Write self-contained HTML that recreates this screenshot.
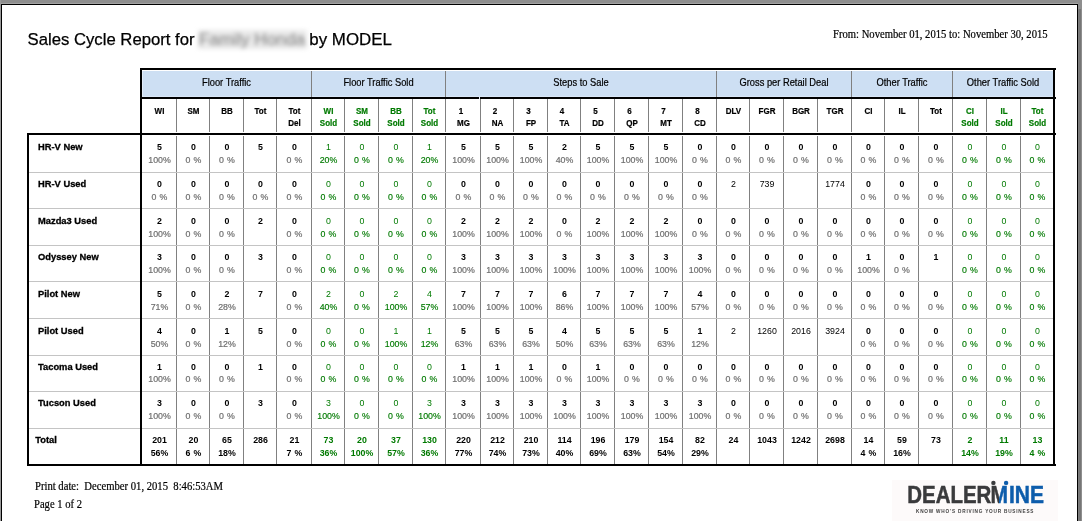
<!DOCTYPE html>
<html><head><meta charset="utf-8"><title>Sales Cycle Report</title>
<style>
html,body{margin:0;padding:0;background:#fff;}
body{width:1082px;height:521px;overflow:hidden;position:relative;}
svg{position:absolute;left:0;top:0;}
text{font-family:"Liberation Sans",Arial,sans-serif;fill:#000;}
.band{font-size:10.3px;stroke:#000;stroke-width:0.2px;}
.sh{font-size:9px;font-weight:bold;stroke:#000;stroke-width:0.2px;}
.sh.g{stroke:#007a00;}
.nm{font-size:9.5px;font-weight:bold;stroke:#000;stroke-width:0.3px;}
.ct{font-size:8.8px;word-spacing:0.6px;}
.b{font-weight:bold;}
.p{fill:#6f6f6f;stroke:#6f6f6f;stroke-width:0.2px;}
.gp{fill:#007a00;stroke:#007a00;stroke-width:0.15px;}
.g{fill:#007a00;}
.title{font-size:16.7px;stroke:#000;stroke-width:0.25px;}
.serif{font-family:"Liberation Serif","Times New Roman",serif;font-size:11.8px;stroke:#000;stroke-width:0.2px;}
.blur{filter:blur(2.2px);}
.logo{font-size:23.6px;font-weight:bold;stroke-width:0.5px;}
.tag{font-size:4.7px;font-weight:bold;fill:#3d3d3d;}
</style></head>
<body>
<svg width="1082" height="521" viewBox="0 0 1082 521" shape-rendering="crispEdges">
<rect x="0" y="0" width="1082" height="4" fill="#8e8e8e"/>
<rect x="0" y="3" width="1078" height="1" fill="#a3a3a3"/>
<rect x="0" y="0" width="1" height="521" fill="#9a9a9a"/>
<rect x="1" y="4" width="1077" height="1" fill="#000"/>
<rect x="1" y="4" width="1" height="517" fill="#000"/>
<rect x="1077" y="4" width="1" height="517" fill="#000"/>
<rect x="1078" y="0" width="4" height="521" fill="#8e8e8e"/>
<rect x="1078" y="9" width="1" height="512" fill="#7e7e7e"/>
<rect x="1079" y="9" width="2" height="512" fill="#767676"/>
<rect x="142" y="71" width="911" height="26" fill="#cddff3"/>
<rect x="142" y="71" width="1" height="26" fill="#e2ecf8"/>
<rect x="142" y="96" width="911" height="1" fill="#dae7f7"/>
<rect x="311" y="71" width="1" height="26" fill="#808080"/>
<rect x="445" y="71" width="1" height="26" fill="#808080"/>
<rect x="716" y="71" width="1" height="26" fill="#808080"/>
<rect x="851" y="71" width="1" height="26" fill="#808080"/>
<rect x="952" y="71" width="1" height="26" fill="#808080"/>
<rect x="176" y="99" width="1" height="33" fill="#808080"/>
<rect x="176" y="136" width="1" height="328" fill="#808080"/>
<rect x="209" y="99" width="1" height="33" fill="#808080"/>
<rect x="209" y="136" width="1" height="328" fill="#808080"/>
<rect x="243" y="99" width="1" height="33" fill="#808080"/>
<rect x="243" y="136" width="1" height="328" fill="#808080"/>
<rect x="276" y="99" width="1" height="33" fill="#808080"/>
<rect x="276" y="136" width="1" height="328" fill="#808080"/>
<rect x="311" y="99" width="1" height="33" fill="#808080"/>
<rect x="311" y="136" width="1" height="328" fill="#808080"/>
<rect x="344" y="99" width="1" height="33" fill="#808080"/>
<rect x="344" y="136" width="1" height="328" fill="#808080"/>
<rect x="378" y="99" width="1" height="33" fill="#808080"/>
<rect x="378" y="136" width="1" height="328" fill="#808080"/>
<rect x="412" y="99" width="1" height="33" fill="#808080"/>
<rect x="412" y="136" width="1" height="328" fill="#808080"/>
<rect x="445" y="99" width="1" height="33" fill="#808080"/>
<rect x="445" y="136" width="1" height="328" fill="#808080"/>
<rect x="480" y="99" width="1" height="33" fill="#808080"/>
<rect x="480" y="136" width="1" height="328" fill="#808080"/>
<rect x="513" y="99" width="1" height="33" fill="#808080"/>
<rect x="513" y="136" width="1" height="328" fill="#808080"/>
<rect x="547" y="99" width="1" height="33" fill="#808080"/>
<rect x="547" y="136" width="1" height="328" fill="#808080"/>
<rect x="580" y="99" width="1" height="33" fill="#808080"/>
<rect x="580" y="136" width="1" height="328" fill="#808080"/>
<rect x="614" y="99" width="1" height="33" fill="#808080"/>
<rect x="614" y="136" width="1" height="328" fill="#808080"/>
<rect x="648" y="99" width="1" height="33" fill="#808080"/>
<rect x="648" y="136" width="1" height="328" fill="#808080"/>
<rect x="682" y="99" width="1" height="33" fill="#808080"/>
<rect x="682" y="136" width="1" height="328" fill="#808080"/>
<rect x="716" y="99" width="1" height="33" fill="#808080"/>
<rect x="716" y="136" width="1" height="328" fill="#808080"/>
<rect x="749" y="99" width="1" height="33" fill="#808080"/>
<rect x="749" y="136" width="1" height="328" fill="#808080"/>
<rect x="783" y="99" width="1" height="33" fill="#808080"/>
<rect x="783" y="136" width="1" height="328" fill="#808080"/>
<rect x="817" y="99" width="1" height="33" fill="#808080"/>
<rect x="817" y="136" width="1" height="328" fill="#808080"/>
<rect x="851" y="99" width="1" height="33" fill="#808080"/>
<rect x="851" y="136" width="1" height="328" fill="#808080"/>
<rect x="884" y="99" width="1" height="33" fill="#808080"/>
<rect x="884" y="136" width="1" height="328" fill="#808080"/>
<rect x="918" y="99" width="1" height="33" fill="#808080"/>
<rect x="918" y="136" width="1" height="328" fill="#808080"/>
<rect x="952" y="99" width="1" height="33" fill="#808080"/>
<rect x="952" y="136" width="1" height="328" fill="#808080"/>
<rect x="986" y="99" width="1" height="33" fill="#808080"/>
<rect x="986" y="136" width="1" height="328" fill="#808080"/>
<rect x="1020" y="99" width="1" height="33" fill="#808080"/>
<rect x="1020" y="136" width="1" height="328" fill="#808080"/>
<rect x="29" y="172" width="1024" height="1" fill="#c4c4c4"/>
<rect x="29" y="208" width="1024" height="1" fill="#c4c4c4"/>
<rect x="29" y="245" width="1024" height="1" fill="#c4c4c4"/>
<rect x="29" y="281" width="1024" height="1" fill="#c4c4c4"/>
<rect x="29" y="318" width="1024" height="1" fill="#c4c4c4"/>
<rect x="29" y="355" width="1024" height="1" fill="#c4c4c4"/>
<rect x="29" y="391" width="1024" height="1" fill="#c4c4c4"/>
<rect x="29" y="428" width="1024" height="1" fill="#c4c4c4"/>
<rect x="140" y="68" width="916" height="2" fill="#000"/>
<rect x="140" y="97" width="916" height="2" fill="#000"/>
<rect x="27" y="133" width="1029" height="2" fill="#000"/>
<rect x="27" y="464" width="1029" height="2" fill="#000"/>
<rect x="140" y="68" width="2" height="398" fill="#000"/>
<rect x="1053" y="68" width="2" height="398" fill="#000"/>
<rect x="27" y="133" width="2" height="333" fill="#000"/>
<rect x="479" y="97" width="1" height="2" fill="#e6eef8"/>
<text transform="translate(226.5 86) scale(0.905 1)" class="band" text-anchor="middle">Floor Traffic</text>
<text transform="translate(378.5 86) scale(0.905 1)" class="band" text-anchor="middle">Floor Traffic Sold</text>
<text transform="translate(581.0 86) scale(0.905 1)" class="band" text-anchor="middle">Steps to Sale</text>
<text transform="translate(784.0 86) scale(0.905 1)" class="band" text-anchor="middle">Gross per Retail Deal</text>
<text transform="translate(902.0 86) scale(0.905 1)" class="band" text-anchor="middle">Other Traffic</text>
<text transform="translate(1003.0 86) scale(0.905 1)" class="band" text-anchor="middle">Other Traffic Sold</text>
<text transform="translate(159.5 114) scale(0.89 1)" class="sh" text-anchor="middle">WI</text>
<text transform="translate(193.5 114) scale(0.89 1)" class="sh" text-anchor="middle">SM</text>
<text transform="translate(227.0 114) scale(0.89 1)" class="sh" text-anchor="middle">BB</text>
<text transform="translate(260.5 114) scale(0.89 1)" class="sh" text-anchor="middle">Tot</text>
<text transform="translate(294.5 114) scale(0.89 1)" class="sh" text-anchor="middle">Tot</text>
<text transform="translate(294.5 125.7) scale(0.89 1)" class="sh" text-anchor="middle">Del</text>
<text transform="translate(328.5 114) scale(0.89 1)" class="sh g" text-anchor="middle">WI</text>
<text transform="translate(328.5 125.7) scale(0.89 1)" class="sh g" text-anchor="middle">Sold</text>
<text transform="translate(362.0 114) scale(0.89 1)" class="sh g" text-anchor="middle">SM</text>
<text transform="translate(362.0 125.7) scale(0.89 1)" class="sh g" text-anchor="middle">Sold</text>
<text transform="translate(396.0 114) scale(0.89 1)" class="sh g" text-anchor="middle">BB</text>
<text transform="translate(396.0 125.7) scale(0.89 1)" class="sh g" text-anchor="middle">Sold</text>
<text transform="translate(429.5 114) scale(0.89 1)" class="sh g" text-anchor="middle">Tot</text>
<text transform="translate(429.5 125.7) scale(0.89 1)" class="sh g" text-anchor="middle">Sold</text>
<text transform="translate(461.0 114) scale(0.89 1)" class="sh" text-anchor="middle">1</text>
<text transform="translate(463.5 125.7) scale(0.89 1)" class="sh" text-anchor="middle">MG</text>
<text transform="translate(495.0 114) scale(0.89 1)" class="sh" text-anchor="middle">2</text>
<text transform="translate(497.5 125.7) scale(0.89 1)" class="sh" text-anchor="middle">NA</text>
<text transform="translate(528.5 114) scale(0.89 1)" class="sh" text-anchor="middle">3</text>
<text transform="translate(531.0 125.7) scale(0.89 1)" class="sh" text-anchor="middle">FP</text>
<text transform="translate(562.0 114) scale(0.89 1)" class="sh" text-anchor="middle">4</text>
<text transform="translate(564.5 125.7) scale(0.89 1)" class="sh" text-anchor="middle">TA</text>
<text transform="translate(595.5 114) scale(0.89 1)" class="sh" text-anchor="middle">5</text>
<text transform="translate(598.0 125.7) scale(0.89 1)" class="sh" text-anchor="middle">DD</text>
<text transform="translate(629.5 114) scale(0.89 1)" class="sh" text-anchor="middle">6</text>
<text transform="translate(632.0 125.7) scale(0.89 1)" class="sh" text-anchor="middle">QP</text>
<text transform="translate(663.5 114) scale(0.89 1)" class="sh" text-anchor="middle">7</text>
<text transform="translate(666.0 125.7) scale(0.89 1)" class="sh" text-anchor="middle">MT</text>
<text transform="translate(697.5 114) scale(0.89 1)" class="sh" text-anchor="middle">8</text>
<text transform="translate(700.0 125.7) scale(0.89 1)" class="sh" text-anchor="middle">CD</text>
<text transform="translate(733.5 114) scale(0.89 1)" class="sh" text-anchor="middle">DLV</text>
<text transform="translate(767.0 114) scale(0.89 1)" class="sh" text-anchor="middle">FGR</text>
<text transform="translate(801.0 114) scale(0.89 1)" class="sh" text-anchor="middle">BGR</text>
<text transform="translate(835.0 114) scale(0.89 1)" class="sh" text-anchor="middle">TGR</text>
<text transform="translate(868.5 114) scale(0.89 1)" class="sh" text-anchor="middle">CI</text>
<text transform="translate(902.0 114) scale(0.89 1)" class="sh" text-anchor="middle">IL</text>
<text transform="translate(936.0 114) scale(0.89 1)" class="sh" text-anchor="middle">Tot</text>
<text transform="translate(970.0 114) scale(0.89 1)" class="sh g" text-anchor="middle">CI</text>
<text transform="translate(970.0 125.7) scale(0.89 1)" class="sh g" text-anchor="middle">Sold</text>
<text transform="translate(1004.0 114) scale(0.89 1)" class="sh g" text-anchor="middle">IL</text>
<text transform="translate(1004.0 125.7) scale(0.89 1)" class="sh g" text-anchor="middle">Sold</text>
<text transform="translate(1037.5 114) scale(0.89 1)" class="sh g" text-anchor="middle">Tot</text>
<text transform="translate(1037.5 125.7) scale(0.89 1)" class="sh g" text-anchor="middle">Sold</text>
<text transform="translate(38 150) scale(0.985 1)" class="nm">HR-V New</text>
<text x="159.5" y="150" class="ct b" text-anchor="middle">5</text>
<text x="159.5" y="162.8" class="ct p" text-anchor="middle">100%</text>
<text x="193.5" y="150" class="ct b" text-anchor="middle">0</text>
<text x="193.5" y="162.8" class="ct p" text-anchor="middle">0 %</text>
<text x="227.0" y="150" class="ct b" text-anchor="middle">0</text>
<text x="227.0" y="162.8" class="ct p" text-anchor="middle">0 %</text>
<text x="260.5" y="150" class="ct b" text-anchor="middle">5</text>
<text x="294.5" y="150" class="ct b" text-anchor="middle">0</text>
<text x="294.5" y="162.8" class="ct p" text-anchor="middle">0 %</text>
<text x="328.5" y="150" class="ct g" text-anchor="middle">1</text>
<text x="328.5" y="162.8" class="ct gp" text-anchor="middle">20%</text>
<text x="362.0" y="150" class="ct g" text-anchor="middle">0</text>
<text x="362.0" y="162.8" class="ct gp" text-anchor="middle">0 %</text>
<text x="396.0" y="150" class="ct g" text-anchor="middle">0</text>
<text x="396.0" y="162.8" class="ct gp" text-anchor="middle">0 %</text>
<text x="429.5" y="150" class="ct g" text-anchor="middle">1</text>
<text x="429.5" y="162.8" class="ct gp" text-anchor="middle">20%</text>
<text x="463.5" y="150" class="ct b" text-anchor="middle">5</text>
<text x="463.5" y="162.8" class="ct p" text-anchor="middle">100%</text>
<text x="497.5" y="150" class="ct b" text-anchor="middle">5</text>
<text x="497.5" y="162.8" class="ct p" text-anchor="middle">100%</text>
<text x="531.0" y="150" class="ct b" text-anchor="middle">5</text>
<text x="531.0" y="162.8" class="ct p" text-anchor="middle">100%</text>
<text x="564.5" y="150" class="ct b" text-anchor="middle">2</text>
<text x="564.5" y="162.8" class="ct p" text-anchor="middle">40%</text>
<text x="598.0" y="150" class="ct b" text-anchor="middle">5</text>
<text x="598.0" y="162.8" class="ct p" text-anchor="middle">100%</text>
<text x="632.0" y="150" class="ct b" text-anchor="middle">5</text>
<text x="632.0" y="162.8" class="ct p" text-anchor="middle">100%</text>
<text x="666.0" y="150" class="ct b" text-anchor="middle">5</text>
<text x="666.0" y="162.8" class="ct p" text-anchor="middle">100%</text>
<text x="700.0" y="150" class="ct b" text-anchor="middle">0</text>
<text x="700.0" y="162.8" class="ct p" text-anchor="middle">0 %</text>
<text x="733.5" y="150" class="ct b" text-anchor="middle">0</text>
<text x="733.5" y="162.8" class="ct p" text-anchor="middle">0 %</text>
<text x="767.0" y="150" class="ct b" text-anchor="middle">0</text>
<text x="767.0" y="162.8" class="ct p" text-anchor="middle">0 %</text>
<text x="801.0" y="150" class="ct b" text-anchor="middle">0</text>
<text x="801.0" y="162.8" class="ct p" text-anchor="middle">0 %</text>
<text x="835.0" y="150" class="ct b" text-anchor="middle">0</text>
<text x="835.0" y="162.8" class="ct p" text-anchor="middle">0 %</text>
<text x="868.5" y="150" class="ct b" text-anchor="middle">0</text>
<text x="868.5" y="162.8" class="ct p" text-anchor="middle">0 %</text>
<text x="902.0" y="150" class="ct b" text-anchor="middle">0</text>
<text x="902.0" y="162.8" class="ct p" text-anchor="middle">0 %</text>
<text x="936.0" y="150" class="ct b" text-anchor="middle">0</text>
<text x="936.0" y="162.8" class="ct p" text-anchor="middle">0 %</text>
<text x="970.0" y="150" class="ct g" text-anchor="middle">0</text>
<text x="970.0" y="162.8" class="ct gp" text-anchor="middle">0 %</text>
<text x="1004.0" y="150" class="ct g" text-anchor="middle">0</text>
<text x="1004.0" y="162.8" class="ct gp" text-anchor="middle">0 %</text>
<text x="1037.5" y="150" class="ct g" text-anchor="middle">0</text>
<text x="1037.5" y="162.8" class="ct gp" text-anchor="middle">0 %</text>
<text transform="translate(38 187) scale(0.985 1)" class="nm">HR-V Used</text>
<text x="159.5" y="187" class="ct b" text-anchor="middle">0</text>
<text x="159.5" y="199.7" class="ct p" text-anchor="middle">0 %</text>
<text x="193.5" y="187" class="ct b" text-anchor="middle">0</text>
<text x="193.5" y="199.7" class="ct p" text-anchor="middle">0 %</text>
<text x="227.0" y="187" class="ct b" text-anchor="middle">0</text>
<text x="227.0" y="199.7" class="ct p" text-anchor="middle">0 %</text>
<text x="260.5" y="187" class="ct b" text-anchor="middle">0</text>
<text x="260.5" y="199.7" class="ct p" text-anchor="middle">0 %</text>
<text x="294.5" y="187" class="ct b" text-anchor="middle">0</text>
<text x="294.5" y="199.7" class="ct p" text-anchor="middle">0 %</text>
<text x="328.5" y="187" class="ct g" text-anchor="middle">0</text>
<text x="328.5" y="199.7" class="ct gp" text-anchor="middle">0 %</text>
<text x="362.0" y="187" class="ct g" text-anchor="middle">0</text>
<text x="362.0" y="199.7" class="ct gp" text-anchor="middle">0 %</text>
<text x="396.0" y="187" class="ct g" text-anchor="middle">0</text>
<text x="396.0" y="199.7" class="ct gp" text-anchor="middle">0 %</text>
<text x="429.5" y="187" class="ct g" text-anchor="middle">0</text>
<text x="429.5" y="199.7" class="ct gp" text-anchor="middle">0 %</text>
<text x="463.5" y="187" class="ct b" text-anchor="middle">0</text>
<text x="463.5" y="199.7" class="ct p" text-anchor="middle">0 %</text>
<text x="497.5" y="187" class="ct b" text-anchor="middle">0</text>
<text x="497.5" y="199.7" class="ct p" text-anchor="middle">0 %</text>
<text x="531.0" y="187" class="ct b" text-anchor="middle">0</text>
<text x="531.0" y="199.7" class="ct p" text-anchor="middle">0 %</text>
<text x="564.5" y="187" class="ct b" text-anchor="middle">0</text>
<text x="564.5" y="199.7" class="ct p" text-anchor="middle">0 %</text>
<text x="598.0" y="187" class="ct b" text-anchor="middle">0</text>
<text x="598.0" y="199.7" class="ct p" text-anchor="middle">0 %</text>
<text x="632.0" y="187" class="ct b" text-anchor="middle">0</text>
<text x="632.0" y="199.7" class="ct p" text-anchor="middle">0 %</text>
<text x="666.0" y="187" class="ct b" text-anchor="middle">0</text>
<text x="666.0" y="199.7" class="ct p" text-anchor="middle">0 %</text>
<text x="700.0" y="187" class="ct b" text-anchor="middle">0</text>
<text x="700.0" y="199.7" class="ct p" text-anchor="middle">0 %</text>
<text x="733.5" y="187" class="ct" text-anchor="middle">2</text>
<text x="767.0" y="187" class="ct" text-anchor="middle">739</text>
<text x="835.0" y="187" class="ct" text-anchor="middle">1774</text>
<text x="868.5" y="187" class="ct b" text-anchor="middle">0</text>
<text x="868.5" y="199.7" class="ct p" text-anchor="middle">0 %</text>
<text x="902.0" y="187" class="ct b" text-anchor="middle">0</text>
<text x="902.0" y="199.7" class="ct p" text-anchor="middle">0 %</text>
<text x="936.0" y="187" class="ct b" text-anchor="middle">0</text>
<text x="936.0" y="199.7" class="ct p" text-anchor="middle">0 %</text>
<text x="970.0" y="187" class="ct g" text-anchor="middle">0</text>
<text x="970.0" y="199.7" class="ct gp" text-anchor="middle">0 %</text>
<text x="1004.0" y="187" class="ct g" text-anchor="middle">0</text>
<text x="1004.0" y="199.7" class="ct gp" text-anchor="middle">0 %</text>
<text x="1037.5" y="187" class="ct g" text-anchor="middle">0</text>
<text x="1037.5" y="199.7" class="ct gp" text-anchor="middle">0 %</text>
<text transform="translate(38 224.1) scale(0.985 1)" class="nm">Mazda3 Used</text>
<text x="159.5" y="224.1" class="ct b" text-anchor="middle">2</text>
<text x="159.5" y="236.7" class="ct p" text-anchor="middle">100%</text>
<text x="193.5" y="224.1" class="ct b" text-anchor="middle">0</text>
<text x="193.5" y="236.7" class="ct p" text-anchor="middle">0 %</text>
<text x="227.0" y="224.1" class="ct b" text-anchor="middle">0</text>
<text x="227.0" y="236.7" class="ct p" text-anchor="middle">0 %</text>
<text x="260.5" y="224.1" class="ct b" text-anchor="middle">2</text>
<text x="294.5" y="224.1" class="ct b" text-anchor="middle">0</text>
<text x="294.5" y="236.7" class="ct p" text-anchor="middle">0 %</text>
<text x="328.5" y="224.1" class="ct g" text-anchor="middle">0</text>
<text x="328.5" y="236.7" class="ct gp" text-anchor="middle">0 %</text>
<text x="362.0" y="224.1" class="ct g" text-anchor="middle">0</text>
<text x="362.0" y="236.7" class="ct gp" text-anchor="middle">0 %</text>
<text x="396.0" y="224.1" class="ct g" text-anchor="middle">0</text>
<text x="396.0" y="236.7" class="ct gp" text-anchor="middle">0 %</text>
<text x="429.5" y="224.1" class="ct g" text-anchor="middle">0</text>
<text x="429.5" y="236.7" class="ct gp" text-anchor="middle">0 %</text>
<text x="463.5" y="224.1" class="ct b" text-anchor="middle">2</text>
<text x="463.5" y="236.7" class="ct p" text-anchor="middle">100%</text>
<text x="497.5" y="224.1" class="ct b" text-anchor="middle">2</text>
<text x="497.5" y="236.7" class="ct p" text-anchor="middle">100%</text>
<text x="531.0" y="224.1" class="ct b" text-anchor="middle">2</text>
<text x="531.0" y="236.7" class="ct p" text-anchor="middle">100%</text>
<text x="564.5" y="224.1" class="ct b" text-anchor="middle">0</text>
<text x="564.5" y="236.7" class="ct p" text-anchor="middle">0 %</text>
<text x="598.0" y="224.1" class="ct b" text-anchor="middle">2</text>
<text x="598.0" y="236.7" class="ct p" text-anchor="middle">100%</text>
<text x="632.0" y="224.1" class="ct b" text-anchor="middle">2</text>
<text x="632.0" y="236.7" class="ct p" text-anchor="middle">100%</text>
<text x="666.0" y="224.1" class="ct b" text-anchor="middle">2</text>
<text x="666.0" y="236.7" class="ct p" text-anchor="middle">100%</text>
<text x="700.0" y="224.1" class="ct b" text-anchor="middle">0</text>
<text x="700.0" y="236.7" class="ct p" text-anchor="middle">0 %</text>
<text x="733.5" y="224.1" class="ct b" text-anchor="middle">0</text>
<text x="733.5" y="236.7" class="ct p" text-anchor="middle">0 %</text>
<text x="767.0" y="224.1" class="ct b" text-anchor="middle">0</text>
<text x="767.0" y="236.7" class="ct p" text-anchor="middle">0 %</text>
<text x="801.0" y="224.1" class="ct b" text-anchor="middle">0</text>
<text x="801.0" y="236.7" class="ct p" text-anchor="middle">0 %</text>
<text x="835.0" y="224.1" class="ct b" text-anchor="middle">0</text>
<text x="835.0" y="236.7" class="ct p" text-anchor="middle">0 %</text>
<text x="868.5" y="224.1" class="ct b" text-anchor="middle">0</text>
<text x="868.5" y="236.7" class="ct p" text-anchor="middle">0 %</text>
<text x="902.0" y="224.1" class="ct b" text-anchor="middle">0</text>
<text x="902.0" y="236.7" class="ct p" text-anchor="middle">0 %</text>
<text x="936.0" y="224.1" class="ct b" text-anchor="middle">0</text>
<text x="936.0" y="236.7" class="ct p" text-anchor="middle">0 %</text>
<text x="970.0" y="224.1" class="ct g" text-anchor="middle">0</text>
<text x="970.0" y="236.7" class="ct gp" text-anchor="middle">0 %</text>
<text x="1004.0" y="224.1" class="ct g" text-anchor="middle">0</text>
<text x="1004.0" y="236.7" class="ct gp" text-anchor="middle">0 %</text>
<text x="1037.5" y="224.1" class="ct g" text-anchor="middle">0</text>
<text x="1037.5" y="236.7" class="ct gp" text-anchor="middle">0 %</text>
<text transform="translate(38 260) scale(0.985 1)" class="nm">Odyssey New</text>
<text x="159.5" y="260" class="ct b" text-anchor="middle">3</text>
<text x="159.5" y="272.7" class="ct p" text-anchor="middle">100%</text>
<text x="193.5" y="260" class="ct b" text-anchor="middle">0</text>
<text x="193.5" y="272.7" class="ct p" text-anchor="middle">0 %</text>
<text x="227.0" y="260" class="ct b" text-anchor="middle">0</text>
<text x="227.0" y="272.7" class="ct p" text-anchor="middle">0 %</text>
<text x="260.5" y="260" class="ct b" text-anchor="middle">3</text>
<text x="294.5" y="260" class="ct b" text-anchor="middle">0</text>
<text x="294.5" y="272.7" class="ct p" text-anchor="middle">0 %</text>
<text x="328.5" y="260" class="ct g" text-anchor="middle">0</text>
<text x="328.5" y="272.7" class="ct gp" text-anchor="middle">0 %</text>
<text x="362.0" y="260" class="ct g" text-anchor="middle">0</text>
<text x="362.0" y="272.7" class="ct gp" text-anchor="middle">0 %</text>
<text x="396.0" y="260" class="ct g" text-anchor="middle">0</text>
<text x="396.0" y="272.7" class="ct gp" text-anchor="middle">0 %</text>
<text x="429.5" y="260" class="ct g" text-anchor="middle">0</text>
<text x="429.5" y="272.7" class="ct gp" text-anchor="middle">0 %</text>
<text x="463.5" y="260" class="ct b" text-anchor="middle">3</text>
<text x="463.5" y="272.7" class="ct p" text-anchor="middle">100%</text>
<text x="497.5" y="260" class="ct b" text-anchor="middle">3</text>
<text x="497.5" y="272.7" class="ct p" text-anchor="middle">100%</text>
<text x="531.0" y="260" class="ct b" text-anchor="middle">3</text>
<text x="531.0" y="272.7" class="ct p" text-anchor="middle">100%</text>
<text x="564.5" y="260" class="ct b" text-anchor="middle">3</text>
<text x="564.5" y="272.7" class="ct p" text-anchor="middle">100%</text>
<text x="598.0" y="260" class="ct b" text-anchor="middle">3</text>
<text x="598.0" y="272.7" class="ct p" text-anchor="middle">100%</text>
<text x="632.0" y="260" class="ct b" text-anchor="middle">3</text>
<text x="632.0" y="272.7" class="ct p" text-anchor="middle">100%</text>
<text x="666.0" y="260" class="ct b" text-anchor="middle">3</text>
<text x="666.0" y="272.7" class="ct p" text-anchor="middle">100%</text>
<text x="700.0" y="260" class="ct b" text-anchor="middle">3</text>
<text x="700.0" y="272.7" class="ct p" text-anchor="middle">100%</text>
<text x="733.5" y="260" class="ct b" text-anchor="middle">0</text>
<text x="733.5" y="272.7" class="ct p" text-anchor="middle">0 %</text>
<text x="767.0" y="260" class="ct b" text-anchor="middle">0</text>
<text x="767.0" y="272.7" class="ct p" text-anchor="middle">0 %</text>
<text x="801.0" y="260" class="ct b" text-anchor="middle">0</text>
<text x="801.0" y="272.7" class="ct p" text-anchor="middle">0 %</text>
<text x="835.0" y="260" class="ct b" text-anchor="middle">0</text>
<text x="835.0" y="272.7" class="ct p" text-anchor="middle">0 %</text>
<text x="868.5" y="260" class="ct b" text-anchor="middle">1</text>
<text x="868.5" y="272.7" class="ct p" text-anchor="middle">100%</text>
<text x="902.0" y="260" class="ct b" text-anchor="middle">0</text>
<text x="902.0" y="272.7" class="ct p" text-anchor="middle">0 %</text>
<text x="936.0" y="260" class="ct b" text-anchor="middle">1</text>
<text x="970.0" y="260" class="ct g" text-anchor="middle">0</text>
<text x="970.0" y="272.7" class="ct gp" text-anchor="middle">0 %</text>
<text x="1004.0" y="260" class="ct g" text-anchor="middle">0</text>
<text x="1004.0" y="272.7" class="ct gp" text-anchor="middle">0 %</text>
<text x="1037.5" y="260" class="ct g" text-anchor="middle">0</text>
<text x="1037.5" y="272.7" class="ct gp" text-anchor="middle">0 %</text>
<text transform="translate(38 297.1) scale(0.985 1)" class="nm">Pilot New</text>
<text x="159.5" y="297.1" class="ct b" text-anchor="middle">5</text>
<text x="159.5" y="309.6" class="ct p" text-anchor="middle">71%</text>
<text x="193.5" y="297.1" class="ct b" text-anchor="middle">0</text>
<text x="193.5" y="309.6" class="ct p" text-anchor="middle">0 %</text>
<text x="227.0" y="297.1" class="ct b" text-anchor="middle">2</text>
<text x="227.0" y="309.6" class="ct p" text-anchor="middle">28%</text>
<text x="260.5" y="297.1" class="ct b" text-anchor="middle">7</text>
<text x="294.5" y="297.1" class="ct b" text-anchor="middle">0</text>
<text x="294.5" y="309.6" class="ct p" text-anchor="middle">0 %</text>
<text x="328.5" y="297.1" class="ct g" text-anchor="middle">2</text>
<text x="328.5" y="309.6" class="ct gp" text-anchor="middle">40%</text>
<text x="362.0" y="297.1" class="ct g" text-anchor="middle">0</text>
<text x="362.0" y="309.6" class="ct gp" text-anchor="middle">0 %</text>
<text x="396.0" y="297.1" class="ct g" text-anchor="middle">2</text>
<text x="396.0" y="309.6" class="ct gp" text-anchor="middle">100%</text>
<text x="429.5" y="297.1" class="ct g" text-anchor="middle">4</text>
<text x="429.5" y="309.6" class="ct gp" text-anchor="middle">57%</text>
<text x="463.5" y="297.1" class="ct b" text-anchor="middle">7</text>
<text x="463.5" y="309.6" class="ct p" text-anchor="middle">100%</text>
<text x="497.5" y="297.1" class="ct b" text-anchor="middle">7</text>
<text x="497.5" y="309.6" class="ct p" text-anchor="middle">100%</text>
<text x="531.0" y="297.1" class="ct b" text-anchor="middle">7</text>
<text x="531.0" y="309.6" class="ct p" text-anchor="middle">100%</text>
<text x="564.5" y="297.1" class="ct b" text-anchor="middle">6</text>
<text x="564.5" y="309.6" class="ct p" text-anchor="middle">86%</text>
<text x="598.0" y="297.1" class="ct b" text-anchor="middle">7</text>
<text x="598.0" y="309.6" class="ct p" text-anchor="middle">100%</text>
<text x="632.0" y="297.1" class="ct b" text-anchor="middle">7</text>
<text x="632.0" y="309.6" class="ct p" text-anchor="middle">100%</text>
<text x="666.0" y="297.1" class="ct b" text-anchor="middle">7</text>
<text x="666.0" y="309.6" class="ct p" text-anchor="middle">100%</text>
<text x="700.0" y="297.1" class="ct b" text-anchor="middle">4</text>
<text x="700.0" y="309.6" class="ct p" text-anchor="middle">57%</text>
<text x="733.5" y="297.1" class="ct b" text-anchor="middle">0</text>
<text x="733.5" y="309.6" class="ct p" text-anchor="middle">0 %</text>
<text x="767.0" y="297.1" class="ct b" text-anchor="middle">0</text>
<text x="767.0" y="309.6" class="ct p" text-anchor="middle">0 %</text>
<text x="801.0" y="297.1" class="ct b" text-anchor="middle">0</text>
<text x="801.0" y="309.6" class="ct p" text-anchor="middle">0 %</text>
<text x="835.0" y="297.1" class="ct b" text-anchor="middle">0</text>
<text x="835.0" y="309.6" class="ct p" text-anchor="middle">0 %</text>
<text x="868.5" y="297.1" class="ct b" text-anchor="middle">0</text>
<text x="868.5" y="309.6" class="ct p" text-anchor="middle">0 %</text>
<text x="902.0" y="297.1" class="ct b" text-anchor="middle">0</text>
<text x="902.0" y="309.6" class="ct p" text-anchor="middle">0 %</text>
<text x="936.0" y="297.1" class="ct b" text-anchor="middle">0</text>
<text x="936.0" y="309.6" class="ct p" text-anchor="middle">0 %</text>
<text x="970.0" y="297.1" class="ct g" text-anchor="middle">0</text>
<text x="970.0" y="309.6" class="ct gp" text-anchor="middle">0 %</text>
<text x="1004.0" y="297.1" class="ct g" text-anchor="middle">0</text>
<text x="1004.0" y="309.6" class="ct gp" text-anchor="middle">0 %</text>
<text x="1037.5" y="297.1" class="ct g" text-anchor="middle">0</text>
<text x="1037.5" y="309.6" class="ct gp" text-anchor="middle">0 %</text>
<text transform="translate(38 334.1) scale(0.985 1)" class="nm">Pilot Used</text>
<text x="159.5" y="334.1" class="ct b" text-anchor="middle">4</text>
<text x="159.5" y="346.6" class="ct p" text-anchor="middle">50%</text>
<text x="193.5" y="334.1" class="ct b" text-anchor="middle">0</text>
<text x="193.5" y="346.6" class="ct p" text-anchor="middle">0 %</text>
<text x="227.0" y="334.1" class="ct b" text-anchor="middle">1</text>
<text x="227.0" y="346.6" class="ct p" text-anchor="middle">12%</text>
<text x="260.5" y="334.1" class="ct b" text-anchor="middle">5</text>
<text x="294.5" y="334.1" class="ct b" text-anchor="middle">0</text>
<text x="294.5" y="346.6" class="ct p" text-anchor="middle">0 %</text>
<text x="328.5" y="334.1" class="ct g" text-anchor="middle">0</text>
<text x="328.5" y="346.6" class="ct gp" text-anchor="middle">0 %</text>
<text x="362.0" y="334.1" class="ct g" text-anchor="middle">0</text>
<text x="362.0" y="346.6" class="ct gp" text-anchor="middle">0 %</text>
<text x="396.0" y="334.1" class="ct g" text-anchor="middle">1</text>
<text x="396.0" y="346.6" class="ct gp" text-anchor="middle">100%</text>
<text x="429.5" y="334.1" class="ct g" text-anchor="middle">1</text>
<text x="429.5" y="346.6" class="ct gp" text-anchor="middle">12%</text>
<text x="463.5" y="334.1" class="ct b" text-anchor="middle">5</text>
<text x="463.5" y="346.6" class="ct p" text-anchor="middle">63%</text>
<text x="497.5" y="334.1" class="ct b" text-anchor="middle">5</text>
<text x="497.5" y="346.6" class="ct p" text-anchor="middle">63%</text>
<text x="531.0" y="334.1" class="ct b" text-anchor="middle">5</text>
<text x="531.0" y="346.6" class="ct p" text-anchor="middle">63%</text>
<text x="564.5" y="334.1" class="ct b" text-anchor="middle">4</text>
<text x="564.5" y="346.6" class="ct p" text-anchor="middle">50%</text>
<text x="598.0" y="334.1" class="ct b" text-anchor="middle">5</text>
<text x="598.0" y="346.6" class="ct p" text-anchor="middle">63%</text>
<text x="632.0" y="334.1" class="ct b" text-anchor="middle">5</text>
<text x="632.0" y="346.6" class="ct p" text-anchor="middle">63%</text>
<text x="666.0" y="334.1" class="ct b" text-anchor="middle">5</text>
<text x="666.0" y="346.6" class="ct p" text-anchor="middle">63%</text>
<text x="700.0" y="334.1" class="ct b" text-anchor="middle">1</text>
<text x="700.0" y="346.6" class="ct p" text-anchor="middle">12%</text>
<text x="733.5" y="334.1" class="ct" text-anchor="middle">2</text>
<text x="767.0" y="334.1" class="ct" text-anchor="middle">1260</text>
<text x="801.0" y="334.1" class="ct" text-anchor="middle">2016</text>
<text x="835.0" y="334.1" class="ct" text-anchor="middle">3924</text>
<text x="868.5" y="334.1" class="ct b" text-anchor="middle">0</text>
<text x="868.5" y="346.6" class="ct p" text-anchor="middle">0 %</text>
<text x="902.0" y="334.1" class="ct b" text-anchor="middle">0</text>
<text x="902.0" y="346.6" class="ct p" text-anchor="middle">0 %</text>
<text x="936.0" y="334.1" class="ct b" text-anchor="middle">0</text>
<text x="936.0" y="346.6" class="ct p" text-anchor="middle">0 %</text>
<text x="970.0" y="334.1" class="ct g" text-anchor="middle">0</text>
<text x="970.0" y="346.6" class="ct gp" text-anchor="middle">0 %</text>
<text x="1004.0" y="334.1" class="ct g" text-anchor="middle">0</text>
<text x="1004.0" y="346.6" class="ct gp" text-anchor="middle">0 %</text>
<text x="1037.5" y="334.1" class="ct g" text-anchor="middle">0</text>
<text x="1037.5" y="346.6" class="ct gp" text-anchor="middle">0 %</text>
<text transform="translate(38 370) scale(0.985 1)" class="nm">Tacoma Used</text>
<text x="159.5" y="370" class="ct b" text-anchor="middle">1</text>
<text x="159.5" y="382.1" class="ct p" text-anchor="middle">100%</text>
<text x="193.5" y="370" class="ct b" text-anchor="middle">0</text>
<text x="193.5" y="382.1" class="ct p" text-anchor="middle">0 %</text>
<text x="227.0" y="370" class="ct b" text-anchor="middle">0</text>
<text x="227.0" y="382.1" class="ct p" text-anchor="middle">0 %</text>
<text x="260.5" y="370" class="ct b" text-anchor="middle">1</text>
<text x="294.5" y="370" class="ct b" text-anchor="middle">0</text>
<text x="294.5" y="382.1" class="ct p" text-anchor="middle">0 %</text>
<text x="328.5" y="370" class="ct g" text-anchor="middle">0</text>
<text x="328.5" y="382.1" class="ct gp" text-anchor="middle">0 %</text>
<text x="362.0" y="370" class="ct g" text-anchor="middle">0</text>
<text x="362.0" y="382.1" class="ct gp" text-anchor="middle">0 %</text>
<text x="396.0" y="370" class="ct g" text-anchor="middle">0</text>
<text x="396.0" y="382.1" class="ct gp" text-anchor="middle">0 %</text>
<text x="429.5" y="370" class="ct g" text-anchor="middle">0</text>
<text x="429.5" y="382.1" class="ct gp" text-anchor="middle">0 %</text>
<text x="463.5" y="370" class="ct b" text-anchor="middle">1</text>
<text x="463.5" y="382.1" class="ct p" text-anchor="middle">100%</text>
<text x="497.5" y="370" class="ct b" text-anchor="middle">1</text>
<text x="497.5" y="382.1" class="ct p" text-anchor="middle">100%</text>
<text x="531.0" y="370" class="ct b" text-anchor="middle">1</text>
<text x="531.0" y="382.1" class="ct p" text-anchor="middle">100%</text>
<text x="564.5" y="370" class="ct b" text-anchor="middle">0</text>
<text x="564.5" y="382.1" class="ct p" text-anchor="middle">0 %</text>
<text x="598.0" y="370" class="ct b" text-anchor="middle">1</text>
<text x="598.0" y="382.1" class="ct p" text-anchor="middle">100%</text>
<text x="632.0" y="370" class="ct b" text-anchor="middle">0</text>
<text x="632.0" y="382.1" class="ct p" text-anchor="middle">0 %</text>
<text x="666.0" y="370" class="ct b" text-anchor="middle">0</text>
<text x="666.0" y="382.1" class="ct p" text-anchor="middle">0 %</text>
<text x="700.0" y="370" class="ct b" text-anchor="middle">0</text>
<text x="700.0" y="382.1" class="ct p" text-anchor="middle">0 %</text>
<text x="733.5" y="370" class="ct b" text-anchor="middle">0</text>
<text x="733.5" y="382.1" class="ct p" text-anchor="middle">0 %</text>
<text x="767.0" y="370" class="ct b" text-anchor="middle">0</text>
<text x="767.0" y="382.1" class="ct p" text-anchor="middle">0 %</text>
<text x="801.0" y="370" class="ct b" text-anchor="middle">0</text>
<text x="801.0" y="382.1" class="ct p" text-anchor="middle">0 %</text>
<text x="835.0" y="370" class="ct b" text-anchor="middle">0</text>
<text x="835.0" y="382.1" class="ct p" text-anchor="middle">0 %</text>
<text x="868.5" y="370" class="ct b" text-anchor="middle">0</text>
<text x="868.5" y="382.1" class="ct p" text-anchor="middle">0 %</text>
<text x="902.0" y="370" class="ct b" text-anchor="middle">0</text>
<text x="902.0" y="382.1" class="ct p" text-anchor="middle">0 %</text>
<text x="936.0" y="370" class="ct b" text-anchor="middle">0</text>
<text x="936.0" y="382.1" class="ct p" text-anchor="middle">0 %</text>
<text x="970.0" y="370" class="ct g" text-anchor="middle">0</text>
<text x="970.0" y="382.1" class="ct gp" text-anchor="middle">0 %</text>
<text x="1004.0" y="370" class="ct g" text-anchor="middle">0</text>
<text x="1004.0" y="382.1" class="ct gp" text-anchor="middle">0 %</text>
<text x="1037.5" y="370" class="ct g" text-anchor="middle">0</text>
<text x="1037.5" y="382.1" class="ct gp" text-anchor="middle">0 %</text>
<text transform="translate(38 405.8) scale(0.985 1)" class="nm">Tucson Used</text>
<text x="159.5" y="405.8" class="ct b" text-anchor="middle">3</text>
<text x="159.5" y="418.5" class="ct p" text-anchor="middle">100%</text>
<text x="193.5" y="405.8" class="ct b" text-anchor="middle">0</text>
<text x="193.5" y="418.5" class="ct p" text-anchor="middle">0 %</text>
<text x="227.0" y="405.8" class="ct b" text-anchor="middle">0</text>
<text x="227.0" y="418.5" class="ct p" text-anchor="middle">0 %</text>
<text x="260.5" y="405.8" class="ct b" text-anchor="middle">3</text>
<text x="294.5" y="405.8" class="ct b" text-anchor="middle">0</text>
<text x="294.5" y="418.5" class="ct p" text-anchor="middle">0 %</text>
<text x="328.5" y="405.8" class="ct g" text-anchor="middle">3</text>
<text x="328.5" y="418.5" class="ct gp" text-anchor="middle">100%</text>
<text x="362.0" y="405.8" class="ct g" text-anchor="middle">0</text>
<text x="362.0" y="418.5" class="ct gp" text-anchor="middle">0 %</text>
<text x="396.0" y="405.8" class="ct g" text-anchor="middle">0</text>
<text x="396.0" y="418.5" class="ct gp" text-anchor="middle">0 %</text>
<text x="429.5" y="405.8" class="ct g" text-anchor="middle">3</text>
<text x="429.5" y="418.5" class="ct gp" text-anchor="middle">100%</text>
<text x="463.5" y="405.8" class="ct b" text-anchor="middle">3</text>
<text x="463.5" y="418.5" class="ct p" text-anchor="middle">100%</text>
<text x="497.5" y="405.8" class="ct b" text-anchor="middle">3</text>
<text x="497.5" y="418.5" class="ct p" text-anchor="middle">100%</text>
<text x="531.0" y="405.8" class="ct b" text-anchor="middle">3</text>
<text x="531.0" y="418.5" class="ct p" text-anchor="middle">100%</text>
<text x="564.5" y="405.8" class="ct b" text-anchor="middle">3</text>
<text x="564.5" y="418.5" class="ct p" text-anchor="middle">100%</text>
<text x="598.0" y="405.8" class="ct b" text-anchor="middle">3</text>
<text x="598.0" y="418.5" class="ct p" text-anchor="middle">100%</text>
<text x="632.0" y="405.8" class="ct b" text-anchor="middle">3</text>
<text x="632.0" y="418.5" class="ct p" text-anchor="middle">100%</text>
<text x="666.0" y="405.8" class="ct b" text-anchor="middle">3</text>
<text x="666.0" y="418.5" class="ct p" text-anchor="middle">100%</text>
<text x="700.0" y="405.8" class="ct b" text-anchor="middle">3</text>
<text x="700.0" y="418.5" class="ct p" text-anchor="middle">100%</text>
<text x="733.5" y="405.8" class="ct b" text-anchor="middle">0</text>
<text x="733.5" y="418.5" class="ct p" text-anchor="middle">0 %</text>
<text x="767.0" y="405.8" class="ct b" text-anchor="middle">0</text>
<text x="767.0" y="418.5" class="ct p" text-anchor="middle">0 %</text>
<text x="801.0" y="405.8" class="ct b" text-anchor="middle">0</text>
<text x="801.0" y="418.5" class="ct p" text-anchor="middle">0 %</text>
<text x="835.0" y="405.8" class="ct b" text-anchor="middle">0</text>
<text x="835.0" y="418.5" class="ct p" text-anchor="middle">0 %</text>
<text x="868.5" y="405.8" class="ct b" text-anchor="middle">0</text>
<text x="868.5" y="418.5" class="ct p" text-anchor="middle">0 %</text>
<text x="902.0" y="405.8" class="ct b" text-anchor="middle">0</text>
<text x="902.0" y="418.5" class="ct p" text-anchor="middle">0 %</text>
<text x="936.0" y="405.8" class="ct b" text-anchor="middle">0</text>
<text x="936.0" y="418.5" class="ct p" text-anchor="middle">0 %</text>
<text x="970.0" y="405.8" class="ct g" text-anchor="middle">0</text>
<text x="970.0" y="418.5" class="ct gp" text-anchor="middle">0 %</text>
<text x="1004.0" y="405.8" class="ct g" text-anchor="middle">0</text>
<text x="1004.0" y="418.5" class="ct gp" text-anchor="middle">0 %</text>
<text x="1037.5" y="405.8" class="ct g" text-anchor="middle">0</text>
<text x="1037.5" y="418.5" class="ct gp" text-anchor="middle">0 %</text>
<text transform="translate(35.2 443.1) scale(0.985 1)" class="nm">Total</text>
<text x="159.5" y="443.1" class="ct b" text-anchor="middle">201</text>
<text x="159.5" y="456" class="ct b" text-anchor="middle">56%</text>
<text x="193.5" y="443.1" class="ct b" text-anchor="middle">20</text>
<text x="193.5" y="456" class="ct b" text-anchor="middle">6 %</text>
<text x="227.0" y="443.1" class="ct b" text-anchor="middle">65</text>
<text x="227.0" y="456" class="ct b" text-anchor="middle">18%</text>
<text x="260.5" y="443.1" class="ct b" text-anchor="middle">286</text>
<text x="294.5" y="443.1" class="ct b" text-anchor="middle">21</text>
<text x="294.5" y="456" class="ct b" text-anchor="middle">7 %</text>
<text x="328.5" y="443.1" class="ct b g" text-anchor="middle">73</text>
<text x="328.5" y="456" class="ct b g" text-anchor="middle">36%</text>
<text x="362.0" y="443.1" class="ct b g" text-anchor="middle">20</text>
<text x="362.0" y="456" class="ct b g" text-anchor="middle">100%</text>
<text x="396.0" y="443.1" class="ct b g" text-anchor="middle">37</text>
<text x="396.0" y="456" class="ct b g" text-anchor="middle">57%</text>
<text x="429.5" y="443.1" class="ct b g" text-anchor="middle">130</text>
<text x="429.5" y="456" class="ct b g" text-anchor="middle">36%</text>
<text x="463.5" y="443.1" class="ct b" text-anchor="middle">220</text>
<text x="463.5" y="456" class="ct b" text-anchor="middle">77%</text>
<text x="497.5" y="443.1" class="ct b" text-anchor="middle">212</text>
<text x="497.5" y="456" class="ct b" text-anchor="middle">74%</text>
<text x="531.0" y="443.1" class="ct b" text-anchor="middle">210</text>
<text x="531.0" y="456" class="ct b" text-anchor="middle">73%</text>
<text x="564.5" y="443.1" class="ct b" text-anchor="middle">114</text>
<text x="564.5" y="456" class="ct b" text-anchor="middle">40%</text>
<text x="598.0" y="443.1" class="ct b" text-anchor="middle">196</text>
<text x="598.0" y="456" class="ct b" text-anchor="middle">69%</text>
<text x="632.0" y="443.1" class="ct b" text-anchor="middle">179</text>
<text x="632.0" y="456" class="ct b" text-anchor="middle">63%</text>
<text x="666.0" y="443.1" class="ct b" text-anchor="middle">154</text>
<text x="666.0" y="456" class="ct b" text-anchor="middle">54%</text>
<text x="700.0" y="443.1" class="ct b" text-anchor="middle">82</text>
<text x="700.0" y="456" class="ct b" text-anchor="middle">29%</text>
<text x="733.5" y="443.1" class="ct b" text-anchor="middle">24</text>
<text x="767.0" y="443.1" class="ct b" text-anchor="middle">1043</text>
<text x="801.0" y="443.1" class="ct b" text-anchor="middle">1242</text>
<text x="835.0" y="443.1" class="ct b" text-anchor="middle">2698</text>
<text x="868.5" y="443.1" class="ct b" text-anchor="middle">14</text>
<text x="868.5" y="456" class="ct b" text-anchor="middle">4 %</text>
<text x="902.0" y="443.1" class="ct b" text-anchor="middle">59</text>
<text x="902.0" y="456" class="ct b" text-anchor="middle">16%</text>
<text x="936.0" y="443.1" class="ct b" text-anchor="middle">73</text>
<text x="970.0" y="443.1" class="ct b g" text-anchor="middle">2</text>
<text x="970.0" y="456" class="ct b g" text-anchor="middle">14%</text>
<text x="1004.0" y="443.1" class="ct b g" text-anchor="middle">11</text>
<text x="1004.0" y="456" class="ct b g" text-anchor="middle">19%</text>
<text x="1037.5" y="443.1" class="ct b g" text-anchor="middle">13</text>
<text x="1037.5" y="456" class="ct b g" text-anchor="middle">4 %</text>
<text x="27.6" y="45" class="title">Sales Cycle Report for</text>
<g class="blur"><rect x="198" y="30" width="109" height="19" fill="#e9e9e9"/><text x="199" y="45" class="title" style="fill:#808080;stroke:none" textLength="106" lengthAdjust="spacingAndGlyphs">Family Honda</text></g>
<text x="309.3" y="45" class="title" textLength="82.6" lengthAdjust="spacingAndGlyphs">by MODEL</text>
<text x="833" y="37.9" class="serif" textLength="214.6" lengthAdjust="spacingAndGlyphs">From: November 01, 2015 to: November 30, 2015</text>
<text x="35" y="490" class="serif" xml:space="preserve" textLength="188" lengthAdjust="spacingAndGlyphs">Print date:  December 01, 2015  8:46:53AM</text>
<text x="34" y="508" class="serif" textLength="48" lengthAdjust="spacingAndGlyphs">Page 1 of 2</text>
<defs><linearGradient id="mg" x1="0" x2="1" y1="0" y2="0"><stop offset="0.5" stop-color="#3a3a3c"/><stop offset="0.5" stop-color="#0d5cab"/></linearGradient></defs>
<rect x="892" y="480" width="166" height="41" fill="#fdfafa"/>
<text x="907.3" y="502.8" class="logo" style="fill:#3a3a3c;stroke:#3a3a3c" textLength="84" lengthAdjust="spacingAndGlyphs">DEALER</text>
<text x="990.5" y="502.8" class="logo" style="fill:url(#mg);stroke:url(#mg)" textLength="17.5" lengthAdjust="spacingAndGlyphs">M</text>
<text x="1009" y="502.8" class="logo" style="fill:#0d5cab;stroke:#0d5cab" textLength="35" lengthAdjust="spacingAndGlyphs">INE</text>
<circle cx="993.4" cy="482.9" r="2.2" fill="#3a3a3c" shape-rendering="geometricPrecision"/>
<circle cx="1006.1" cy="482.9" r="2.2" fill="#0d5cab" shape-rendering="geometricPrecision"/>
<text x="916" y="512.8" class="tag" textLength="117.5" lengthAdjust="spacing">KNOW WHO&#8217;S DRIVING YOUR BUSINESS</text>
</svg>
</body></html>
